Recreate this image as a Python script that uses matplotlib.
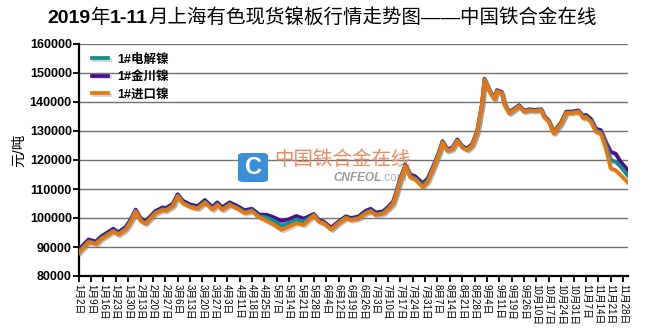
import matplotlib
matplotlib.use("Agg")
import matplotlib.pyplot as plt
import matplotlib.patheffects as pe
from matplotlib.patches import FancyBboxPatch

plt.rcParams['font.family'] = ['Liberation Sans', 'Noto Sans CJK SC', 'DejaVu Sans']

# Trading-day index (0 = 1月2日) and prices in 元/吨
days = [0, 4, 7, 9, 14, 16, 19, 21, 23, 25, 27, 31, 34, 35, 38, 40, 42, 45, 48, 51,
        54, 56, 58, 61, 64, 67, 70, 73, 76, 79, 82, 85, 88, 91, 95, 97, 99, 102, 105, 108,
        110, 113, 116, 118, 120, 123, 125, 127, 128, 130, 132, 134, 136, 139, 141, 144, 146, 147, 149, 151,
        153, 155, 157, 159, 161, 163, 164, 166, 168, 169, 171, 172, 174, 178, 180, 182, 184, 187, 188, 190,
        192, 195, 197, 199, 202, 204, 205, 207, 209, 211, 213, 215, 217, 219, 222]

ni_import = [88000, 91700, 91000, 92700, 95400, 94200, 96000, 98600, 102200, 99000,
             98000, 101600, 102800, 102400, 104000, 107500, 105100, 103800, 103200, 105300,
             102900, 104500, 102800, 104500, 103300, 101700, 102300, 100200, 99000, 97600,
             95900, 97000, 98200, 97600, 100900, 98700, 98200, 96000, 98200, 100000,
             99300, 99800, 101600, 102300, 101000, 101500, 103000, 104800, 107300, 113000,
             117800, 114000, 113300, 110600, 112300, 118600, 123100, 126000, 123100, 123700,
             126600, 124300, 123400, 124900, 129400, 139100, 147700, 143700, 140900, 143700,
             143100, 139100, 136000, 138500, 136600, 137100, 136900, 137100, 134800, 133100,
             129100, 132600, 136200, 136200, 136600, 134300, 134800, 133100, 129700, 129100,
             124000, 117100, 116500, 114800, 112200]

ni_electrolytic = [88400, 92000, 91300, 93000, 95700, 94500, 96300, 98900, 102400, 99300,
                   98300, 101900, 103100, 102700, 104300, 107700, 105400, 104100, 103500, 105600,
                   103200, 104800, 103100, 104800, 103600, 102000, 102700, 100500, 100200, 99000,
                   97400, 98300, 99500, 98800, 101000, 98900, 98400, 96200, 98400, 100200,
                   99500, 100000, 101900, 102600, 101300, 101800, 103300, 105100, 107500, 113200,
                   118000, 114300, 113700, 111300, 113000, 118900, 123300, 126200, 123300, 123900,
                   126800, 124500, 123600, 125100, 129600, 139300, 147800, 143800, 141000, 143800,
                   143200, 139300, 136200, 138700, 136800, 137300, 137100, 137300, 135000, 133300,
                   129300, 132800, 136400, 136400, 136800, 134600, 135100, 133500, 130200, 129600,
                   125100, 120000, 119400, 117700, 114500]

ni_jinchuan = [89100, 92600, 91900, 93600, 96300, 95100, 96900, 99500, 102900, 99900,
               98900, 102400, 103700, 103300, 104900, 108200, 106000, 104700, 104100, 106200,
               103800, 105400, 103700, 105400, 104200, 102700, 103200, 101200, 101100, 100200,
               99000, 99600, 100700, 99800, 101400, 99300, 98800, 96700, 98800, 100600,
               100000, 100500, 102500, 103200, 101900, 102300, 103800, 105600, 108100, 113800,
               118300, 115000, 114400, 112000, 113600, 119300, 123700, 126500, 123700, 124300,
               127100, 124800, 124000, 125500, 129900, 139500, 148000, 144000, 141300, 144100,
               143500, 139600, 136500, 138900, 137000, 137500, 137300, 137500, 135300, 133600,
               129600, 133100, 136700, 136700, 137100, 135100, 135600, 134200, 130800, 130300,
               126300, 122800, 122200, 119400, 116500]

series_names = ["1#电解镍", "1#金川镍", "1#进口镍"]
series_colors = ["#12908E", "#4B0C8F", "#E8760E"]

tick_labels = ["1月2日", "1月9日", "1月16日", "1月23日", "1月30日", "2月13日", "2月20日", "2月27日",
               "3月6日", "3月13日", "3月20日", "3月27日", "4月3日", "4月11日", "4月18日", "4月25日",
               "5月7日", "5月14日", "5月21日", "5月28日", "6月4日", "6月12日", "6月19日", "6月26日",
               "7月3日", "7月10日", "7月17日", "7月24日", "7月31日", "8月7日", "8月14日", "8月21日",
               "8月28日", "9月4日", "9月11日", "9月19日", "9月26日", "10月10日", "10月17日", "10月24日",
               "10月31日", "11月7日", "11月14日", "11月21日", "11月28日"]
tick_step = 5

W, H = 649, 335
fig = plt.figure(figsize=(W / 100, H / 100), dpi=100)
ax = fig.add_axes([78.7 / W, 1 - 276 / H, (628 - 78.7) / W, (276 - 44) / H])

shadow = [pe.SimpleLineShadow(offset=(1.2, -1.2), shadow_color='#808080', alpha=0.35), pe.Normal()]

series = [ni_electrolytic, ni_jinchuan, ni_import]
order = [1, 0, 2]
handles = {}
for i in order:
    ln, = ax.plot(days, series[i], color=series_colors[i], lw=2.7, label=series_names[i],
                  solid_joinstyle='round', zorder=3 + order.index(i), path_effects=shadow)
    handles[i] = ln

ax.set_xlim(0, 222)
ax.set_ylim(80000, 160000)
ax.set_yticks(range(80000, 160001, 10000))
ax.set_yticklabels([str(v) for v in range(80000, 160001, 10000)],
                   fontsize=9, fontweight='bold', family=['Liberation Sans'])
ax.set_xticks([i * tick_step for i in range(len(tick_labels))])
ax.set_xticklabels(tick_labels, rotation=270, fontsize=7, va='top', ha='center')

ax.yaxis.grid(True, color='#707070', lw=1.0)
ax.set_axisbelow(True)
for s in ['top', 'right']:
    ax.spines[s].set_visible(False)
for s in ['left', 'bottom']:
    ax.spines[s].set_linewidth(1.6)
    ax.spines[s].set_color('black')
ax.tick_params(axis='both', direction='out', length=4, width=1.3, color='black')
ax.tick_params(axis='y', pad=1)
ax.tick_params(axis='x', pad=2)

leg = ax.legend([handles[0], handles[1], handles[2]], series_names, loc='upper left',
                bbox_to_anchor=(0.024, 0.958), frameon=False, borderpad=0, borderaxespad=0,
                handlelength=1.3, handletextpad=0.7, labelspacing=0.42,
                prop={'size': 9, 'weight': 'bold'})

# y-axis unit label
fig.text(19 / W, 1 - 150 / H, "元/吨", rotation=90, fontsize=10.5, ha='center', va='center')

# watermark
logo = FancyBboxPatch((238 / W, 1 - 182 / H), 30 / W, 29 / H,
                      boxstyle="round,pad=0,rounding_size=0.008", transform=fig.transFigure,
                      facecolor='#3A8FD8', edgecolor='none', zorder=1.5, clip_on=False)
ax.add_patch(logo)
ax.text(253 / W, 1 - 167.5 / H, "C", transform=fig.transFigure, fontsize=17, fontweight='bold',
        color='white', ha='center', va='center', zorder=1.6)
ax.text(342 / W, 1 - 160 / H, "中国铁合金在线", transform=fig.transFigure, fontsize=14,
        color='#F2895E', ha='center', va='center', zorder=1.6)
ax.text(333 / W, 1 - 178 / H, "CNFEOL", transform=fig.transFigure, fontsize=8.5,
        fontweight='bold', style='italic', color='#9A9A9A', ha='left', va='center', zorder=1.6)
ax.text(382 / W, 1 - 178 / H, ".com", transform=fig.transFigure, fontsize=8.5,
        color='#B0B0B0', ha='left', va='center', zorder=1.6)

# title built from pieces with mixed weights
pieces = [("2019", "bold"), ("年", "normal"), ("1-11", "bold"),
          ("月上海有色现货镍板行情走势图——中国铁合金在线", "normal")]
title_size = 14
first = fig.text(42 / W, 1 - 27 / H, pieces[0][0], fontsize=title_size, fontweight=pieces[0][1],
                 ha='left', va='bottom')
prev = first
parts = [first]
for txt, wt in pieces[1:]:
    t = ax.annotate(txt, xy=(1, 0), xycoords=prev, fontsize=title_size, fontweight=wt,
                    ha='left', va='bottom', annotation_clip=False)
    parts.append(t)
    prev = t

fig.canvas.draw()
r = fig.canvas.get_renderer()
x_left = parts[0].get_window_extent(r).x0
x_right = parts[-1].get_window_extent(r).x1
shift = 322 - (x_left + x_right) / 2
first.set_x(first.get_position()[0] + shift / W)

fig.savefig("out.png", dpi=100)
